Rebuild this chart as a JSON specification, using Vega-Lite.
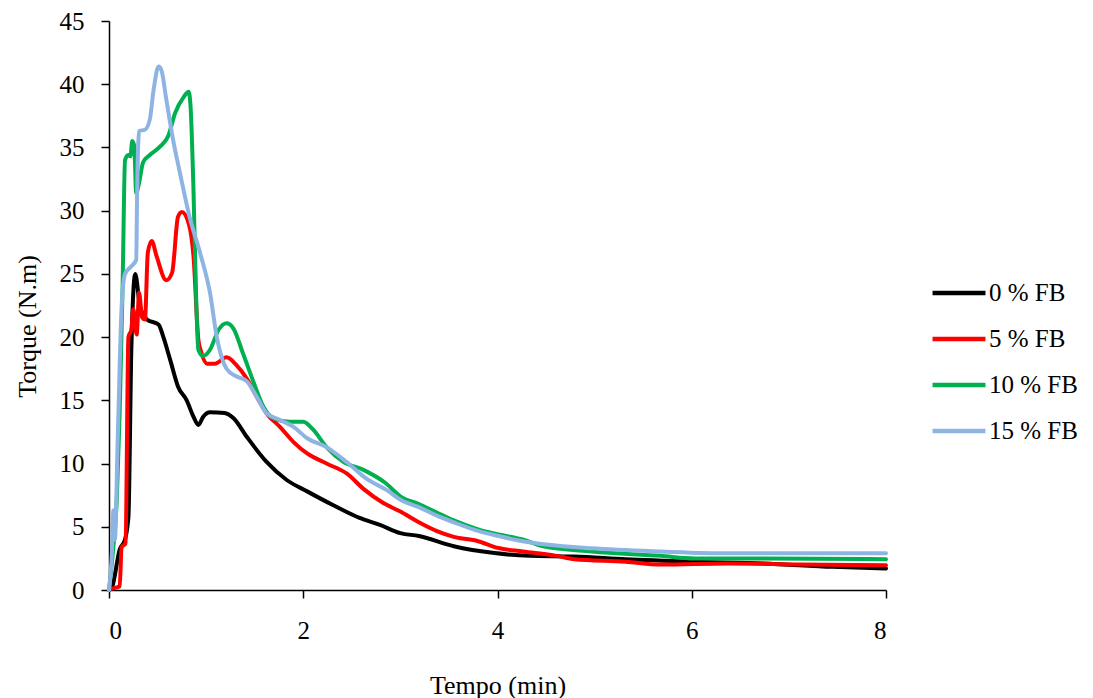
{
  "$schema": "https://vega.github.io/schema/vega-lite/v6.json",
  "width": 777,
  "height": 569,
  "autosize": "none",
  "padding": {"left": 109, "top": 21, "right": 207, "bottom": 108},
  "background": "white",
  "config": {
    "view": {"stroke": null},
    "font": "Liberation Serif",
    "axis": {
      "labelFont": "Liberation Serif",
      "titleFont": "Liberation Serif",
      "labelFontSize": 25,
      "titleFontSize": 26,
      "titleFontWeight": "normal",
      "labelColor": "black",
      "titleColor": "black",
      "domainColor": "black",
      "tickColor": "black",
      "domainWidth": 1.5,
      "tickWidth": 1.5,
      "tickSize": 8,
      "grid": false
    },
    "legend": {
      "labelFont": "Liberation Serif",
      "labelFontSize": 25,
      "labelColor": "black"
    }
  },
  "data": {
    "values": [
      {"series": "0 % FB", "t": 0, "torque": 0},
      {"series": "0 % FB", "t": 0.03, "torque": 0.2},
      {"series": "0 % FB", "t": 0.11, "torque": 3.2},
      {"series": "0 % FB", "t": 0.165, "torque": 4.0},
      {"series": "0 % FB", "t": 0.2, "torque": 5.8},
      {"series": "0 % FB", "t": 0.23, "torque": 19},
      {"series": "0 % FB", "t": 0.27, "torque": 25},
      {"series": "0 % FB", "t": 0.32, "torque": 22.4},
      {"series": "0 % FB", "t": 0.39, "torque": 21.4},
      {"series": "0 % FB", "t": 0.51, "torque": 21},
      {"series": "0 % FB", "t": 0.56, "torque": 20},
      {"series": "0 % FB", "t": 0.63, "torque": 18.2},
      {"series": "0 % FB", "t": 0.71, "torque": 16.1},
      {"series": "0 % FB", "t": 0.8, "torque": 15},
      {"series": "0 % FB", "t": 0.87, "torque": 13.7},
      {"series": "0 % FB", "t": 0.92, "torque": 13.05},
      {"series": "0 % FB", "t": 0.97, "torque": 13.7},
      {"series": "0 % FB", "t": 1.04, "torque": 14.05},
      {"series": "0 % FB", "t": 1.19, "torque": 14.0},
      {"series": "0 % FB", "t": 1.28, "torque": 13.6},
      {"series": "0 % FB", "t": 1.42, "torque": 12.1},
      {"series": "0 % FB", "t": 1.62, "torque": 10.15},
      {"series": "0 % FB", "t": 1.83, "torque": 8.7},
      {"series": "0 % FB", "t": 2.04, "torque": 7.8},
      {"series": "0 % FB", "t": 2.31, "torque": 6.7},
      {"series": "0 % FB", "t": 2.58, "torque": 5.7},
      {"series": "0 % FB", "t": 2.79, "torque": 5.15},
      {"series": "0 % FB", "t": 3.0, "torque": 4.5},
      {"series": "0 % FB", "t": 3.19, "torque": 4.27},
      {"series": "0 % FB", "t": 3.55, "torque": 3.46},
      {"series": "0 % FB", "t": 3.97, "torque": 2.92},
      {"series": "0 % FB", "t": 4.33, "torque": 2.7},
      {"series": "0 % FB", "t": 4.79, "torque": 2.64},
      {"series": "0 % FB", "t": 5.32, "torque": 2.43},
      {"series": "0 % FB", "t": 6.03, "torque": 2.24},
      {"series": "0 % FB", "t": 6.74, "torque": 2.1},
      {"series": "0 % FB", "t": 7.45, "torque": 1.83},
      {"series": "0 % FB", "t": 8, "torque": 1.7},

      {"series": "5 % FB", "t": 0, "torque": 0},
      {"series": "5 % FB", "t": 0.03, "torque": 0.1},
      {"series": "5 % FB", "t": 0.11, "torque": 0.3},
      {"series": "5 % FB", "t": 0.13, "torque": 3.4},
      {"series": "5 % FB", "t": 0.17, "torque": 3.7},
      {"series": "5 % FB", "t": 0.2, "torque": 20},
      {"series": "5 % FB", "t": 0.23, "torque": 20.6},
      {"series": "5 % FB", "t": 0.25, "torque": 22.2},
      {"series": "5 % FB", "t": 0.285, "torque": 20.2},
      {"series": "5 % FB", "t": 0.31, "torque": 23.5},
      {"series": "5 % FB", "t": 0.34, "torque": 21.6},
      {"series": "5 % FB", "t": 0.37, "torque": 21.4},
      {"series": "5 % FB", "t": 0.40, "torque": 26.7},
      {"series": "5 % FB", "t": 0.44, "torque": 27.6},
      {"series": "5 % FB", "t": 0.49, "torque": 26.4},
      {"series": "5 % FB", "t": 0.59, "torque": 24.5},
      {"series": "5 % FB", "t": 0.65, "torque": 25.1},
      {"series": "5 % FB", "t": 0.71, "torque": 29.5},
      {"series": "5 % FB", "t": 0.75, "torque": 29.9},
      {"series": "5 % FB", "t": 0.82, "torque": 29.0},
      {"series": "5 % FB", "t": 0.87, "torque": 26.4},
      {"series": "5 % FB", "t": 0.92, "torque": 19.8},
      {"series": "5 % FB", "t": 0.95, "torque": 18.8},
      {"series": "5 % FB", "t": 1.01, "torque": 17.9},
      {"series": "5 % FB", "t": 1.09, "torque": 17.9},
      {"series": "5 % FB", "t": 1.21, "torque": 18.4},
      {"series": "5 % FB", "t": 1.31, "torque": 17.8},
      {"series": "5 % FB", "t": 1.42, "torque": 16.7},
      {"series": "5 % FB", "t": 1.52, "torque": 15.3},
      {"series": "5 % FB", "t": 1.62, "torque": 14.0},
      {"series": "5 % FB", "t": 1.76, "torque": 12.9},
      {"series": "5 % FB", "t": 1.9, "torque": 11.7},
      {"series": "5 % FB", "t": 2.04, "torque": 10.8},
      {"series": "5 % FB", "t": 2.24, "torque": 10.0},
      {"series": "5 % FB", "t": 2.45, "torque": 9.2},
      {"series": "5 % FB", "t": 2.62, "torque": 8.0},
      {"series": "5 % FB", "t": 2.82, "torque": 6.9},
      {"series": "5 % FB", "t": 3.0, "torque": 6.2},
      {"series": "5 % FB", "t": 3.19, "torque": 5.35},
      {"series": "5 % FB", "t": 3.37, "torque": 4.67},
      {"series": "5 % FB", "t": 3.55, "torque": 4.2},
      {"series": "5 % FB", "t": 3.8, "torque": 3.86},
      {"series": "5 % FB", "t": 4.01, "torque": 3.32},
      {"series": "5 % FB", "t": 4.26, "torque": 3.05},
      {"series": "5 % FB", "t": 4.61, "torque": 2.7},
      {"series": "5 % FB", "t": 4.79, "torque": 2.43},
      {"series": "5 % FB", "t": 5.32, "torque": 2.24},
      {"series": "5 % FB", "t": 5.68, "torque": 2.02},
      {"series": "5 % FB", "t": 6.38, "torque": 2.1},
      {"series": "5 % FB", "t": 7.1, "torque": 2.02},
      {"series": "5 % FB", "t": 8, "torque": 1.95},

      {"series": "10 % FB", "t": 0, "torque": 0},
      {"series": "10 % FB", "t": 0.04, "torque": 3},
      {"series": "10 % FB", "t": 0.08, "torque": 7.1},
      {"series": "10 % FB", "t": 0.11, "torque": 14},
      {"series": "10 % FB", "t": 0.14, "torque": 24},
      {"series": "10 % FB", "t": 0.165, "torque": 34.0},
      {"series": "10 % FB", "t": 0.2, "torque": 34.4},
      {"series": "10 % FB", "t": 0.22, "torque": 34.3},
      {"series": "10 % FB", "t": 0.24, "torque": 35.5},
      {"series": "10 % FB", "t": 0.26, "torque": 35.1},
      {"series": "10 % FB", "t": 0.28, "torque": 31.4},
      {"series": "10 % FB", "t": 0.31, "torque": 32.2},
      {"series": "10 % FB", "t": 0.35, "torque": 33.8},
      {"series": "10 % FB", "t": 0.42, "torque": 34.4},
      {"series": "10 % FB", "t": 0.53, "torque": 35.1},
      {"series": "10 % FB", "t": 0.61, "torque": 35.9},
      {"series": "10 % FB", "t": 0.68, "torque": 37.7},
      {"series": "10 % FB", "t": 0.77, "torque": 39.0},
      {"series": "10 % FB", "t": 0.82, "torque": 39.4},
      {"series": "10 % FB", "t": 0.84, "torque": 38.2},
      {"series": "10 % FB", "t": 0.87, "torque": 31.6},
      {"series": "10 % FB", "t": 0.9, "torque": 22.4},
      {"series": "10 % FB", "t": 0.92, "torque": 19.0},
      {"series": "10 % FB", "t": 0.97, "torque": 18.5},
      {"series": "10 % FB", "t": 1.04, "torque": 19.0},
      {"series": "10 % FB", "t": 1.13, "torque": 20.6},
      {"series": "10 % FB", "t": 1.21, "torque": 21.1},
      {"series": "10 % FB", "t": 1.28, "torque": 20.7},
      {"series": "10 % FB", "t": 1.38, "torque": 18.7},
      {"series": "10 % FB", "t": 1.49, "torque": 16.4},
      {"series": "10 % FB", "t": 1.59, "torque": 14.5},
      {"series": "10 % FB", "t": 1.69, "torque": 13.6},
      {"series": "10 % FB", "t": 1.86, "torque": 13.3},
      {"series": "10 % FB", "t": 2.0, "torque": 13.3},
      {"series": "10 % FB", "t": 2.1, "torque": 12.7},
      {"series": "10 % FB", "t": 2.24, "torque": 11.3},
      {"series": "10 % FB", "t": 2.41, "torque": 10.15},
      {"series": "10 % FB", "t": 2.62, "torque": 9.5},
      {"series": "10 % FB", "t": 2.84, "torque": 8.5},
      {"series": "10 % FB", "t": 3.01, "torque": 7.35},
      {"series": "10 % FB", "t": 3.19, "torque": 6.8},
      {"series": "10 % FB", "t": 3.37, "torque": 6.15},
      {"series": "10 % FB", "t": 3.55, "torque": 5.5},
      {"series": "10 % FB", "t": 3.8, "torque": 4.8},
      {"series": "10 % FB", "t": 4.01, "torque": 4.4},
      {"series": "10 % FB", "t": 4.26, "torque": 4.0},
      {"series": "10 % FB", "t": 4.47, "torque": 3.46},
      {"series": "10 % FB", "t": 4.97, "torque": 3.05},
      {"series": "10 % FB", "t": 5.68, "torque": 2.7},
      {"series": "10 % FB", "t": 6.03, "torque": 2.5},
      {"series": "10 % FB", "t": 6.74, "torque": 2.5},
      {"series": "10 % FB", "t": 8, "torque": 2.43},

      {"series": "15 % FB", "t": 0, "torque": 0},
      {"series": "15 % FB", "t": 0.03, "torque": 3},
      {"series": "15 % FB", "t": 0.045, "torque": 6.3},
      {"series": "15 % FB", "t": 0.06, "torque": 4},
      {"series": "15 % FB", "t": 0.09, "torque": 12},
      {"series": "15 % FB", "t": 0.13, "torque": 22.4},
      {"series": "15 % FB", "t": 0.165, "torque": 25},
      {"series": "15 % FB", "t": 0.23, "torque": 25.6},
      {"series": "15 % FB", "t": 0.28, "torque": 26.1},
      {"series": "15 % FB", "t": 0.29, "torque": 31.6},
      {"series": "15 % FB", "t": 0.31, "torque": 36.3},
      {"series": "15 % FB", "t": 0.37, "torque": 36.4},
      {"series": "15 % FB", "t": 0.42, "torque": 37.2},
      {"series": "15 % FB", "t": 0.46, "torque": 39.6},
      {"series": "15 % FB", "t": 0.51, "torque": 41.4},
      {"series": "15 % FB", "t": 0.54, "torque": 41.1},
      {"series": "15 % FB", "t": 0.59, "torque": 38.8},
      {"series": "15 % FB", "t": 0.66, "torque": 35.6},
      {"series": "15 % FB", "t": 0.73, "torque": 33.0},
      {"series": "15 % FB", "t": 0.83, "torque": 29.5},
      {"series": "15 % FB", "t": 0.94, "torque": 26.6},
      {"series": "15 % FB", "t": 1.04, "torque": 23.5},
      {"series": "15 % FB", "t": 1.11, "torque": 20},
      {"series": "15 % FB", "t": 1.21, "torque": 17.5},
      {"series": "15 % FB", "t": 1.31, "torque": 16.9},
      {"series": "15 % FB", "t": 1.42, "torque": 16.5},
      {"series": "15 % FB", "t": 1.52, "torque": 15.3},
      {"series": "15 % FB", "t": 1.62, "torque": 14.0},
      {"series": "15 % FB", "t": 1.76, "torque": 13.45},
      {"series": "15 % FB", "t": 1.9, "torque": 12.9},
      {"series": "15 % FB", "t": 2.04, "torque": 12.0},
      {"series": "15 % FB", "t": 2.24, "torque": 11.3},
      {"series": "15 % FB", "t": 2.45, "torque": 10.1},
      {"series": "15 % FB", "t": 2.65, "torque": 8.8},
      {"series": "15 % FB", "t": 2.86, "torque": 7.9},
      {"series": "15 % FB", "t": 3.01, "torque": 7.1},
      {"series": "15 % FB", "t": 3.19, "torque": 6.55},
      {"series": "15 % FB", "t": 3.37, "torque": 5.9},
      {"series": "15 % FB", "t": 3.55, "torque": 5.35},
      {"series": "15 % FB", "t": 3.8, "torque": 4.67},
      {"series": "15 % FB", "t": 4.01, "torque": 4.27},
      {"series": "15 % FB", "t": 4.26, "torque": 3.86},
      {"series": "15 % FB", "t": 4.5, "torque": 3.6},
      {"series": "15 % FB", "t": 4.97, "torque": 3.3},
      {"series": "15 % FB", "t": 5.68, "torque": 3.05},
      {"series": "15 % FB", "t": 6.38, "torque": 2.9},
      {"series": "15 % FB", "t": 8, "torque": 2.9}
    ]
  },
  "mark": {"type": "line", "interpolate": "monotone", "strokeWidth": 4, "strokeCap": "round", "strokeJoin": "round"},
  "encoding": {
    "x": {
      "field": "t",
      "type": "quantitative",
      "scale": {"domain": [0, 8], "nice": false, "zero": true},
      "axis": {
        "title": "Tempo (min)",
        "values": [0, 2, 4, 6, 8],
        "labelPadding": 20,
        "titleY": 95,
        "titleBaseline": "middle"
      }
    },
    "y": {
      "field": "torque",
      "type": "quantitative",
      "scale": {"domain": [0, 45], "nice": false},
      "axis": {
        "title": "Torque (N.m)",
        "values": [0, 5, 10, 15, 20, 25, 30, 35, 40, 45],
        "labelPadding": 17,
        "titleAngle": -90,
        "titleX": -82,
        "titleY": 305,
        "titleAlign": "center",
        "titleBaseline": "middle"
      }
    },
    "color": {
      "field": "series",
      "type": "nominal",
      "scale": {
        "domain": ["0 % FB", "5 % FB", "10 % FB", "15 % FB"],
        "range": ["#000000", "#FF0000", "#00B050", "#8EB4E3"]
      },
      "legend": {
        "title": null,
        "orient": "none",
        "legendX": 821,
        "legendY": 243,
        "symbolType": "stroke",
        "symbolSize": 2800,
        "symbolStrokeWidth": 4.5,
        "labelOffset": 1,
        "rowPadding": 4
      }
    }
  }
}
